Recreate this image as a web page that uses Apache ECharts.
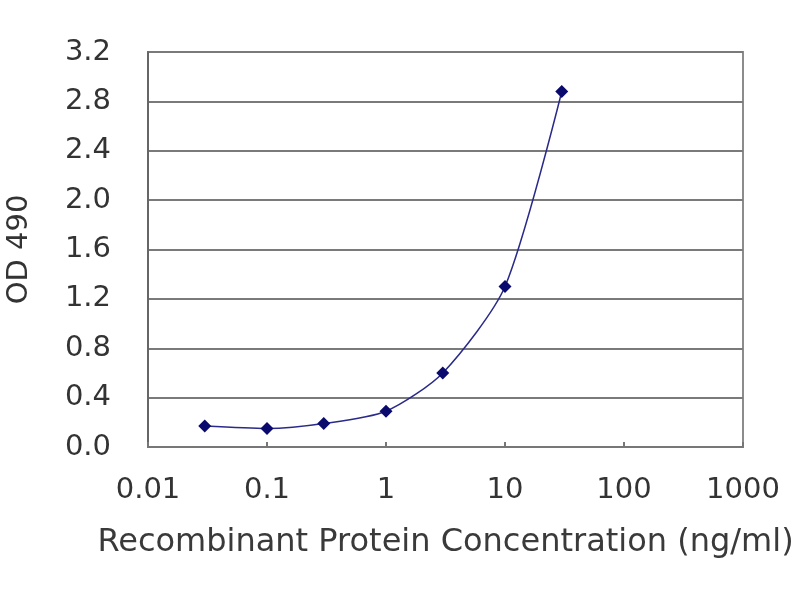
<!DOCTYPE html>
<html><head><meta charset="utf-8">
<script src="https://cdn.jsdelivr.net/npm/echarts@6/dist/echarts.min.js"></script>
<style>html,body{margin:0;padding:0;background:#fff}#c{width:800px;height:600px}</style>
</head><body><div id="c"></div>
<script>
var concentrations = [0.03, 0.1, 0.3, 1, 3, 10, 30];
var odValues = [0.17, 0.15, 0.19, 0.29, 0.60, 1.30, 2.88];
var xTitle = 'Recombinant Protein Concentration (ng/ml)';
var yTitle = 'OD 490';

var chart = echarts.init(document.getElementById('c'));
var pts = concentrations.map(function(c, i){ return [c, odValues[i]]; });
var FONT = 'DejaVu Sans';
chart.setOption({
  animation: false,
  backgroundColor: '#ffffff',
  grid: { left: 148, right: 57, top: 52, bottom: 153, containLabel: false, outerBoundsMode: 'none',
    show: true, borderColor: '#8c8c8c', borderWidth: 2, backgroundColor: '#ffffff' },
  xAxis: {
    type: 'log', logBase: 10, min: 0.01, max: 1000,
    name: xTitle, nameLocation: 'middle', nameGap: 80,
    nameTextStyle: { fontFamily: FONT, fontSize: 32, color: '#3a3a3a' },
    axisLine: { lineStyle: { color: '#777', width: 2 } },
    axisTick: { show: true, inside: true, length: 5, lineStyle: { color: '#777', width: 2 } },
    axisLabel: { fontFamily: FONT, fontSize: 29, color: '#333', margin: 29,
      formatter: function(v){ return String(v); } },
    splitLine: { show: false },
    minorTick: { show: false }
  },
  yAxis: {
    type: 'value', min: 0, max: 3.2, interval: 0.4,
    name: yTitle, nameLocation: 'middle', nameGap: 114, nameRotate: 90,
    nameTextStyle: { fontFamily: FONT, fontSize: 29, color: '#333' },
    axisLine: { show: true, lineStyle: { color: '#666', width: 2 } },
    axisTick: { show: false },
    axisLabel: { fontFamily: FONT, fontSize: 29, color: '#333', margin: 37,
      formatter: function(v){ return v.toFixed(1); } },
    splitLine: { show: true, lineStyle: { color: '#7a7a7a', width: 2 } }
  },
  series: [{
    type: 'line', data: pts, smooth: 0.25,
    symbol: 'diamond', symbolSize: 13,
    lineStyle: { color: '#2a2a8a', width: 1.5 },
    itemStyle: { color: '#0a0a6e' }
  }]
});
</script></body></html>
